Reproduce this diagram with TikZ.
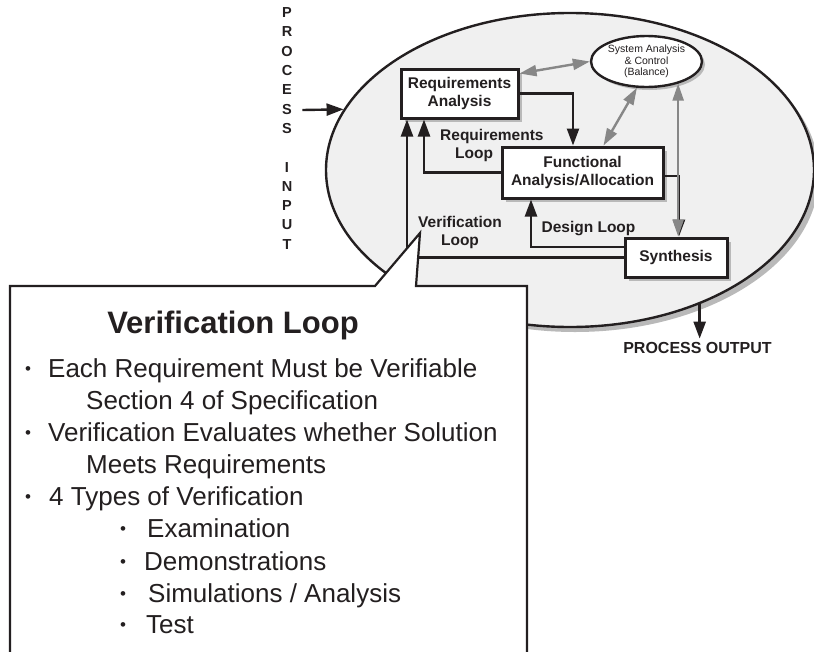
\documentclass[tikz,border=0pt]{standalone}
\usepackage{fontspec}
\setmainfont{Liberation Sans}
\usetikzlibrary{arrows.meta,shapes.geometric,shadows}
\definecolor{inkcol}{RGB}{35,31,32}
\definecolor{ovalcol}{RGB}{240,240,240}
\definecolor{shadecol}{RGB}{185,185,185}
\definecolor{balcol}{RGB}{135,135,135}
\newcommand{\bulmark}[1]{\makebox[#1][l]{\raisebox{3pt}{\fontsize{17}{17}\selectfont\textbullet}}}

\begin{document}
\begin{tikzpicture}[x=1pt,y=-1pt,
  blk/.style={draw=inkcol,line width=3pt,fill=white,inner sep=0pt,align=center,text=inkcol,
    font=\fontsize{15.5}{18.5}\selectfont\bfseries,
    drop shadow={shadow xshift=4pt,shadow yshift=-4pt,fill=shadecol,opacity=1}},
  flow/.style={draw=inkcol,line width=2.4pt,-{Triangle[length=17pt,width=12pt]}},
  bal/.style={draw=balcol,line width=2.4pt,{Triangle[length=17pt,width=11pt]}-{Triangle[length=17pt,width=11pt]}},
  lbl/.style={font=\fontsize{15.5}{18}\selectfont\bfseries,text=inkcol,inner sep=0pt},
  bul/.style={anchor=base west,inner sep=0pt,font=\fontsize{26}{30}\selectfont,text=inkcol}]
\useasboundingbox (0,0) rectangle (814,651);
% system boundary
\node[ellipse,draw=inkcol,line width=2.4pt,fill=ovalcol,minimum width=488pt,minimum height=314pt,inner sep=0pt,
  drop shadow={shadow xshift=5pt,shadow yshift=-5pt,fill=shadecol,opacity=1}] (sysovl) at (570,170) {};
\node[blk,minimum width=117pt,minimum height=49pt] (reqan) at (459.5,93.5) {Requirements\\Analysis};
\node[blk,minimum width=161pt,minimum height=51pt] (funan) at (582.5,172.5) {Functional\\Analysis/Allocation};
\node[blk,minimum width=102pt,minimum height=39pt] (synth) at (676,257.5) {Synthesis};
\node[ellipse,draw=inkcol,line width=2.4pt,fill=white,inner sep=0pt,minimum width=111pt,minimum height=51pt,
  align=center,text=inkcol,font=\fontsize{10.5}{11.5}\selectfont,
  drop shadow={shadow xshift=3pt,shadow yshift=-3pt,fill=shadecol,opacity=1}] (sac) at (646.5,61.5)
  {System Analysis\\\& Control\\(Balance)};
% loops
\draw[flow] (reqan.east) -| ([xshift=-9.5pt]funan.north);
\draw[flow] (funan.west) -| ([xshift=-35.5pt]reqan.south);
\draw[flow] (synth.west) -| ([xshift=-52.5pt]reqan.south);
\draw[flow] ([yshift=10.5pt]synth.west) -| ([xshift=-51.5pt]funan.south);
\draw[flow] ([yshift=-3.5pt]funan.east) -| ([xshift=3pt]synth.north);
\draw[bal] ([yshift=-6pt]reqan.north east) -- (sac.west);
\draw[bal] ([xshift=21pt]funan.north) -- (sac.250);
\draw[bal] (sac.-35) -- (sac.-35 |- synth.north);
\node[lbl,anchor=north west,align=left] (reqlbl) at (440,129) {Requirements\\\hspace*{15pt}Loop};
\node[lbl,anchor=base] (deslbl) at (588.5,232) {Design Loop};
% input / output
\node[lbl,font=\fontsize{14.5}{19.3}\selectfont\bfseries,align=center] (inlbl) at (287,128.5)
  {P\\R\\O\\C\\E\\S\\S\\\mbox{}\\I\\N\\P\\U\\T};
\draw[flow] ([xshift=9.5pt,yshift=18.5pt]inlbl.east) -- (sysovl.165);
\node[lbl,font=\fontsize{16}{19}\selectfont\bfseries,inner sep=3pt,anchor=base] (outlbl) at (697.5,353) {PROCESS OUTPUT};
\draw[flow] (sysovl.-46) -- (sysovl.-46 |- outlbl.north);
% callout
\path[fill=white,draw=inkcol,line width=2.2pt] (10,654) -- (10,286) -- (375,286) -- (420,233) -- (416,286) -- (527,286) -- (527,654);
\node[lbl,anchor=north,align=center] (verlbl) at (460,216) {Verification\\Loop};
\node[anchor=base,inner sep=0pt,text=inkcol,font=\fontsize{31}{36}\selectfont\bfseries] (vtitle) at (233,333) {Verification Loop};
\node[bul] (ln1) at (25,377) {\bulmark{23pt}Each Requirement Must be Verifiable};
\node[bul] (ln2) at (86,409) {Section 4 of Specification};
\node[bul] (ln3) at (25,441) {\bulmark{23pt}Verification Evaluates whether Solution};
\node[bul] (ln4) at (86,473) {Meets Requirements};
\node[bul] (ln5) at (25,505) {\bulmark{24pt}4 Types of Verification};
\node[bul] (ln6) at (120,537) {\bulmark{27pt}Examination};
\node[bul] (ln7) at (120,570) {\bulmark{24pt}Demonstrations};
\node[bul] (ln8) at (120,602) {\bulmark{28pt}Simulations / Analysis};
\node[bul] (ln9) at (120,633) {\bulmark{26pt}Test};
\end{tikzpicture}
\end{document}
